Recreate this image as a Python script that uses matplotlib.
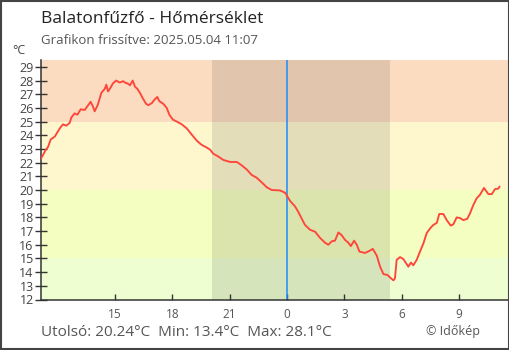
import matplotlib
matplotlib.use("Agg")
import matplotlib.pyplot as plt
from matplotlib.patches import Rectangle

plt.rcParams['font.family'] = ['Open Sans', 'DejaVu Sans']

# hours relative to midnight (negative = previous day)
hours = [-12.90, -12.72, -12.65, -12.51, -12.37, -12.16, -11.90, -11.73, -11.56, -11.38,
         -11.29, -11.12, -10.98, -10.80, -10.59, -10.46, -10.28, -10.16, -10.07, -9.90,
         -9.72, -9.54, -9.46, -9.37, -9.23, -9.11, -8.94, -8.76, -8.59, -8.41,
         -8.36, -8.22, -8.08, -7.96, -7.84, -7.70, -7.55, -7.38, -7.26, -7.08,
         -6.91, -6.79, -6.69, -6.48, -6.30, -6.16, -5.98, -5.77, -5.51, -5.25,
         -4.99, -4.72, -4.47, -4.20, -4.03, -3.86, -3.60, -3.34, -2.98, -2.63,
         -2.37, -2.11, -1.85, -1.59, -1.32, -1.06, -0.80, -0.37, -0.10, 0.12,
         0.16, 0.42, 0.59, 0.77, 0.94, 1.20, 1.47, 1.73, 1.99, 2.16,
         2.34, 2.51, 2.69, 2.86, 3.04, 3.21, 3.34, 3.51, 3.65, 3.79,
         4.08, 4.31, 4.49, 4.70, 4.87, 5.05, 5.25, 5.48, 5.57, 5.65,
         5.74, 5.92, 6.09, 6.35, 6.49, 6.61, 6.79, 6.96, 7.14, 7.31,
         7.49, 7.66, 7.84, 7.97, 8.18, 8.36, 8.57, 8.71, 8.88, 9.06,
         9.23, 9.44, 9.58, 9.75, 9.93, 10.10, 10.31, 10.54, 10.72, 10.89,
         11.06, 11.12]
temps = [22.25, 22.7, 22.9, 23.15, 23.7, 23.9, 24.5, 24.8, 24.7, 24.9,
         25.3, 25.6, 25.5, 25.9, 25.85, 26.1, 26.45, 26.1, 25.75, 26.25,
         27.1, 27.4, 27.7, 27.2, 27.5, 27.8, 28.0, 27.85, 27.95, 27.8,
         27.8, 27.65, 28.0, 27.55, 27.4, 27.1, 26.7, 26.3, 26.2, 26.35,
         26.65, 26.8, 26.5, 26.3, 26.0, 25.5, 25.15, 25.0, 24.8, 24.5,
         24.05, 23.6, 23.3, 23.1, 22.95, 22.65, 22.45, 22.2, 22.05, 22.05,
         21.8, 21.5, 21.1, 20.9, 20.55, 20.2, 20.0, 19.97, 19.8, 19.3,
         19.2, 18.8, 18.4, 17.9, 17.45, 17.1, 16.95, 16.5, 16.15, 16.0,
         16.25, 16.3, 16.9, 16.7, 16.35, 16.15, 15.9, 16.3, 16.0, 15.5,
         15.4, 15.55, 15.7, 15.2, 14.4, 13.85, 13.8, 13.5, 13.4, 13.55,
         14.9, 15.1, 14.95, 14.4, 14.7, 14.5, 14.9, 15.5, 16.1, 16.85,
         17.2, 17.45, 17.6, 18.25, 18.25, 17.8, 17.4, 17.5, 18.0, 17.95,
         17.8, 17.9, 18.3, 18.9, 19.4, 19.65, 20.15, 19.7, 19.7, 20.07,
         20.1, 20.24]

tick_hours = [-9, -6, -3, 0, 3, 6, 9]
tick_labels = ['15', '18', '21', '0', '3', '6', '9']
yticks = list(range(12, 30))
bands = [(12, 15, '#eefed0'), (15, 20, '#f4fec0'), (20, 25, '#fef7ce'), (25, 29.5, '#fbdcc0')]
sunset, sunrise = -3.95, 5.40

fig = plt.figure(figsize=(5.1, 3.5), dpi=100)
ax = fig.add_axes([41/510, 50.5/350, 468/510, 239.5/350])

x0, x1 = -12.88, 11.62
for lo, hi, c in bands:
    ax.axhspan(lo, hi, color=c, lw=0, zorder=0)
ax.axvspan(sunset, sunrise, color='black', alpha=0.1, lw=0, zorder=1)
ax.axvline(0, color='#1a8cff', lw=1.1, zorder=2)
ax.plot(hours, temps, color='#ff453a', lw=1.35, zorder=3)

ax.set_xlim(x0, x1)
ax.set_ylim(12, 29.5)
ax.set_yticks(yticks)
ax.set_xticks(tick_hours)
ax.set_xticklabels(tick_labels)
ax.tick_params(axis='y', direction='inout', length=8.5, width=1, color='#333333',
               labelsize=9, labelcolor='#444444', pad=1)
ax.tick_params(axis='x', direction='in', length=4.3, width=1, color='#333333',
               labelsize=8.5, labelcolor='#555555', pad=6)
for s in ['top', 'right']:
    ax.spines[s].set_visible(False)
for s in ['left', 'bottom']:
    ax.spines[s].set_color('#333333')
    ax.spines[s].set_linewidth(1.1)

fig.text(41/510, 1 - 19/350, 'Balatonfűzfő - Hőmérséklet', fontsize=12.5,
         color='#222222', va='center', ha='left')
fig.text(41/510, 1 - 40/350, 'Grafikon frissítve: 2025.05.04 11:07', fontsize=9.5,
         color='#555555', va='center', ha='left')
fig.text(19/510, 1 - 51/350, '°C', fontsize=9, color='#444444', va='center', ha='center')
fig.text(41/510, 1 - 333/350, 'Utolsó: 20.24°C  Min: 13.4°C  Max: 28.1°C', fontsize=11,
         color='#555555', va='center', ha='left')
fig.text(453/510, 1 - 332/350, '© Időkép', fontsize=9, color='#555555', va='center', ha='center')

fig.patches.append(Rectangle((0.001, 0.002), 0.997, 0.996, transform=fig.transFigure,
                             fill=False, edgecolor='#444444', lw=1.5))

fig.savefig('out.png', dpi=100)
